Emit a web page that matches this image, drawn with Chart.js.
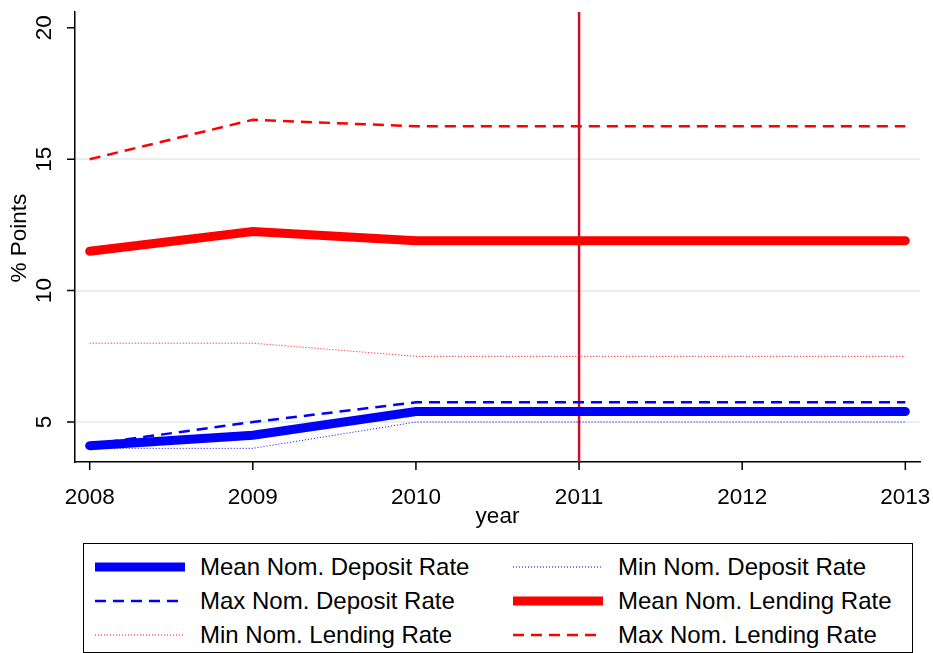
<!DOCTYPE html>
<html>
<head>
<meta charset="utf-8">
<script src="https://cdn.jsdelivr.net/npm/chart.js@4"></script>
<style>
	body { margin: 0; background: #fff; font-family: "Liberation Sans", Arial, sans-serif; }
	#wrap { position: relative; width: 933px; height: 530px; }
	#legend { position: absolute; left: 83px; top: 543px; width: 830px; height: 110px; border: 1px solid #000; box-sizing: border-box; }
	.item { position: absolute; font-size: 24px; color: #000; display: flex; align-items: center; }
	.item svg { margin-right: 14px; }
</style>
</head>
<body>
<div id="wrap"><canvas id="c"></canvas></div>
<div id="legend"></div>
<script>
const years = [2008, 2009, 2010, 2011, 2012, 2013]
const yTicks = [5, 10, 15, 20]
const meanDeposit = [4.1, 4.5, 5.4, 5.4, 5.4, 5.4]
const maxDeposit = [4.15, 5.0, 5.75, 5.75, 5.75, 5.75]
const minDeposit = [4.0, 4.0, 5.0, 5.0, 5.0, 5.0]
const meanLending = [11.5, 12.25, 11.9, 11.9, 11.9, 11.9]
const minLending = [8.0, 8.0, 7.5, 7.5, 7.5, 7.5]
const maxLending = [15.0, 16.5, 16.25, 16.25, 16.25, 16.25]
const markerYear = 2011

const series = [
	{ label: 'Mean Nom. Deposit Rate', data: meanDeposit, color: '#0000ff', width: 9, dash: [] },
	{ label: 'Min Nom. Deposit Rate', data: minDeposit, color: '#0000ff', width: 1, dash: [1, 2] },
	{ label: 'Max Nom. Deposit Rate', data: maxDeposit, color: '#0000ff', width: 2.5, dash: [11, 7] },
	{ label: 'Mean Nom. Lending Rate', data: meanLending, color: '#ff0000', width: 9, dash: [] },
	{ label: 'Min Nom. Lending Rate', data: minLending, color: '#ff0000', width: 1, dash: [1, 2] },
	{ label: 'Max Nom. Lending Rate', data: maxLending, color: '#ff0000', width: 2.5, dash: [11, 7] }
]

const datasets = series.map(s => ({
	label: s.label,
	data: years.map((y, i) => ({ x: y, y: s.data[i] })),
	borderColor: s.color,
	borderWidth: s.width,
	borderDash: s.dash,
	borderCapStyle: s.width > 5 ? 'round' : 'butt',
	pointRadius: 0,
	tension: 0
}))
datasets.push({
	label: 'marker',
	data: [{ x: markerYear, y: 3.48 }, { x: markerYear, y: 20.6 }],
	borderColor: '#c8102e',
	borderWidth: 2.5,
	pointRadius: 0
})

const font = '22.5px "Liberation Sans"'

// tick marks and rotated y labels, Stata style
const stataAxes = {
	id: 'stataAxes',
	afterDraw(chart) {
		const ctx = chart.ctx, xs = chart.scales.x, ys = chart.scales.y
		const area = chart.chartArea
		ctx.save()
		ctx.strokeStyle = '#000'
		ctx.lineWidth = 1.5
		ctx.beginPath()
		years.forEach(v => {
			const px = xs.getPixelForValue(v)
			ctx.moveTo(px, area.bottom); ctx.lineTo(px, area.bottom + 8)
		})
		yTicks.forEach(v => {
			const py = ys.getPixelForValue(v)
			ctx.moveTo(area.left, py); ctx.lineTo(area.left - 8, py)
		})
		ctx.stroke()
		ctx.fillStyle = '#000'
		ctx.font = font
		ctx.textAlign = 'center'
		ctx.textBaseline = 'alphabetic'
		yTicks.forEach(v => {
			const py = ys.getPixelForValue(v)
			ctx.save()
			ctx.translate(area.left - 24, py)
			ctx.rotate(-Math.PI / 2)
			ctx.fillText(String(v), 0, 0)
			ctx.restore()
		})
		ctx.save()
		ctx.translate(26, ys.getPixelForValue(12))
		ctx.rotate(-Math.PI / 2)
		ctx.fillText('% Points', 0, 0)
		ctx.restore()
		ctx.restore()
	}
}

const canvas = document.getElementById('c')
canvas.width = 933
canvas.height = 530
new Chart(canvas, {
	type: 'line',
	data: { datasets },
	plugins: [stataAxes],
	options: {
		responsive: false,
		animation: false,
		layout: { padding: { top: 12, right: 13 } },
		plugins: { legend: { display: false }, tooltip: { enabled: false } },
		scales: {
			x: {
				type: 'linear', min: 2007.91, max: 2013.09,
				afterBuildTicks: s => { s.ticks = years.map(v => ({ value: v })) },
				afterFit: s => { s.height = 68; s.paddingLeft = 0; s.paddingRight = 0 },
				grid: { display: false },
				border: { color: '#000', width: 1.5 },
				ticks: { color: '#000', font: { size: 22.5, family: 'Liberation Sans' }, callback: v => String(v), maxRotation: 0, padding: 14 },
				title: { display: true, text: 'year', color: '#000', font: { size: 22.5, family: 'Liberation Sans' }, padding: 0 }
			},
			y: {
				min: 3.48, max: 20.6,
				afterBuildTicks: s => { s.ticks = [5, 10, 15].map(v => ({ value: v })) },
				afterFit: s => { s.width = 75 },
				grid: { color: '#e8eef1', lineWidth: 2, drawTicks: false },
				border: { color: '#000', width: 1.5 },
				ticks: { display: false }
			}
		}
	}
})

// Legend, two columns
const legend = document.getElementById('legend')
series.forEach((s, i) => {
	const col = i % 2, row = Math.floor(i / 2)
	const div = document.createElement('div')
	div.className = 'item'
	div.style.left = (col === 0 ? 10 : 428) + 'px'
	div.style.top = (9 + row * 34) + 'px'
	div.innerHTML = `<svg width="92" height="14"><line x1="1" y1="7" x2="91" y2="7" stroke="${s.color}" stroke-width="${s.width}" stroke-dasharray="${s.dash.join(' ')}"/></svg><span>${s.label}</span>`
	legend.appendChild(div)
})
</script>
</body>
</html>
